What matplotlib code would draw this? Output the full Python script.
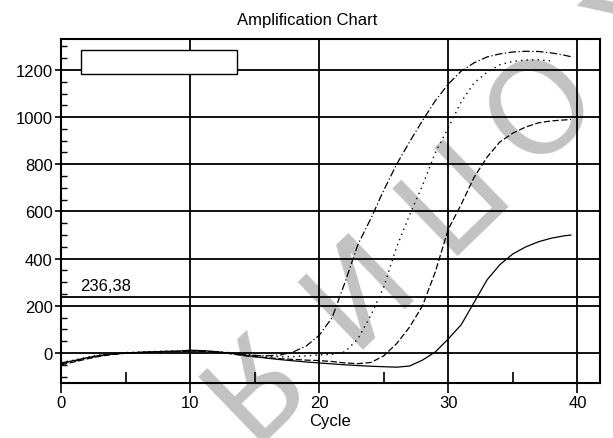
import numpy as np
import matplotlib
matplotlib.use("Agg")
import matplotlib.pyplot as plt
from matplotlib.patches import Rectangle
from matplotlib.ticker import MultipleLocator, FixedLocator

plt.rcParams['font.family'] = ['Liberation Sans', 'DejaVu Sans']

# cycle positions of the readings (last point is the half cycle where the traces stop)
cycles = list(range(40)) + [39.5]

# four amplification traces
sample_a = [-45, -35, -22, -12, -5, 0, 2, 4, 6, 7,
            8, 7, 5, 0, -6, -10, -12, -8, 5, 30,
            75, 150, 300, 460, 570, 690, 800, 895, 985, 1070,
            1140, 1195, 1230, 1255, 1268, 1276, 1279, 1278, 1272, 1262,
            1256]
sample_b = [-40, -30, -18, -8, -2, 2, 4, 6, 8, 9,
            10, 9, 6, 2, -4, -10, -14, -16, -15, -12,
            -8, -5, 5, 60, 160, 280, 450, 585, 710, 850,
            955, 1065, 1145, 1190, 1222, 1236, 1242, 1243, 1238, np.nan,
            np.nan]
sample_c = [-50, -38, -25, -14, -6, -1, 2, 4, 5, 6,
            8, 7, 4, -2, -10, -16, -20, -24, -27, -30,
            -32, -36, -42, -45, -40, -12, 40, 110, 200, 345,
            525, 630, 745, 830, 895, 932, 958, 976, 984, 988,
            990]
sample_d = [-42, -32, -20, -10, -4, 0, 3, 5, 7, 8,
            12, 10, 6, 0, -8, -15, -22, -28, -33, -38,
            -42, -46, -50, -53, -56, -58, -60, -55, -30, 5,
            60, 120, 215, 310, 375, 420, 450, 472, 487, 497,
            500]

threshold = 236.38
threshold_label = "236,38"

x_ticks = [0, 10, 20, 30, 40]
x_minor = [5, 15, 25, 35]
y_ticks = [0, 200, 400, 600, 800, 1000, 1200]

W, H = 613, 439
fig = plt.figure(figsize=(W / 100, H / 100), dpi=100)
ax = fig.add_axes([61 / W, 1 - 384 / H, (600 - 61) / W, (384 - 40) / H])
ax.set_facecolor('none')

# watermark, upside down along the diagonal, letters spaced out
wm_start = np.array([611.0, 8.0])
wm_step = np.array([-95.0, 94.0])
for i, ch in enumerate("КОПИЯ"):
    px, py = wm_start + i * wm_step
    fig.text(px / W, 1 - py / H, ch, fontsize=92, fontweight='normal',
             family='DejaVu Sans', color='#c2c2c2', rotation=224,
             ha='center', va='center', rotation_mode='anchor', zorder=-5)

ax.plot(cycles, sample_a, color='black', lw=0.9, ls=(0, (6, 2, 1, 2)), zorder=3)
ax.plot(cycles, sample_b, color='black', lw=1.0, ls=(0, (1, 3)), zorder=3)
ax.plot(cycles, sample_c, color='black', lw=0.9, ls=(0, (5, 2)), zorder=3)
ax.plot(cycles, sample_d, color='black', lw=0.9, ls='-', zorder=3)

ax.axhline(threshold, color='black', lw=1.3, zorder=2)
ax.text(1.45, 288, threshold_label, fontsize=12, va='center', ha='left', zorder=4)

# empty legend box
ax.add_patch(Rectangle((1.55, 1181), 12.05, 102, facecolor='white',
                       edgecolor='black', lw=1.0, zorder=5))

ax.set_xlim(0, 41.75)
ax.set_ylim(-127, 1331)
ax.set_xticks(x_ticks)
ax.set_yticks(y_ticks)
ax.xaxis.set_minor_locator(FixedLocator(x_minor))
ax.yaxis.set_minor_locator(MultipleLocator(50))
ax.grid(True, which='major', color='black', lw=1.3, zorder=1)
ax.set_axisbelow(True)

ax.tick_params(axis='x', which='major', direction='out', length=7, width=1.2,
               pad=2, labelsize=12)
ax.tick_params(axis='y', which='major', direction='out', length=4, width=1.2,
               pad=2, labelsize=12)
ax.tick_params(axis='x', which='minor', direction='in', length=8, width=1.2)
ax.tick_params(axis='y', which='minor', direction='in', length=4.5, width=1.0)

for sp in ax.spines.values():
    sp.set_linewidth(1.5)

ax.set_xlabel("Cycle", fontsize=12, labelpad=2)
fig.text(307 / W, 1 - 20 / H, "Amplification Chart", fontsize=12,
         ha='center', va='center')

fig.savefig("out.png", dpi=100)
